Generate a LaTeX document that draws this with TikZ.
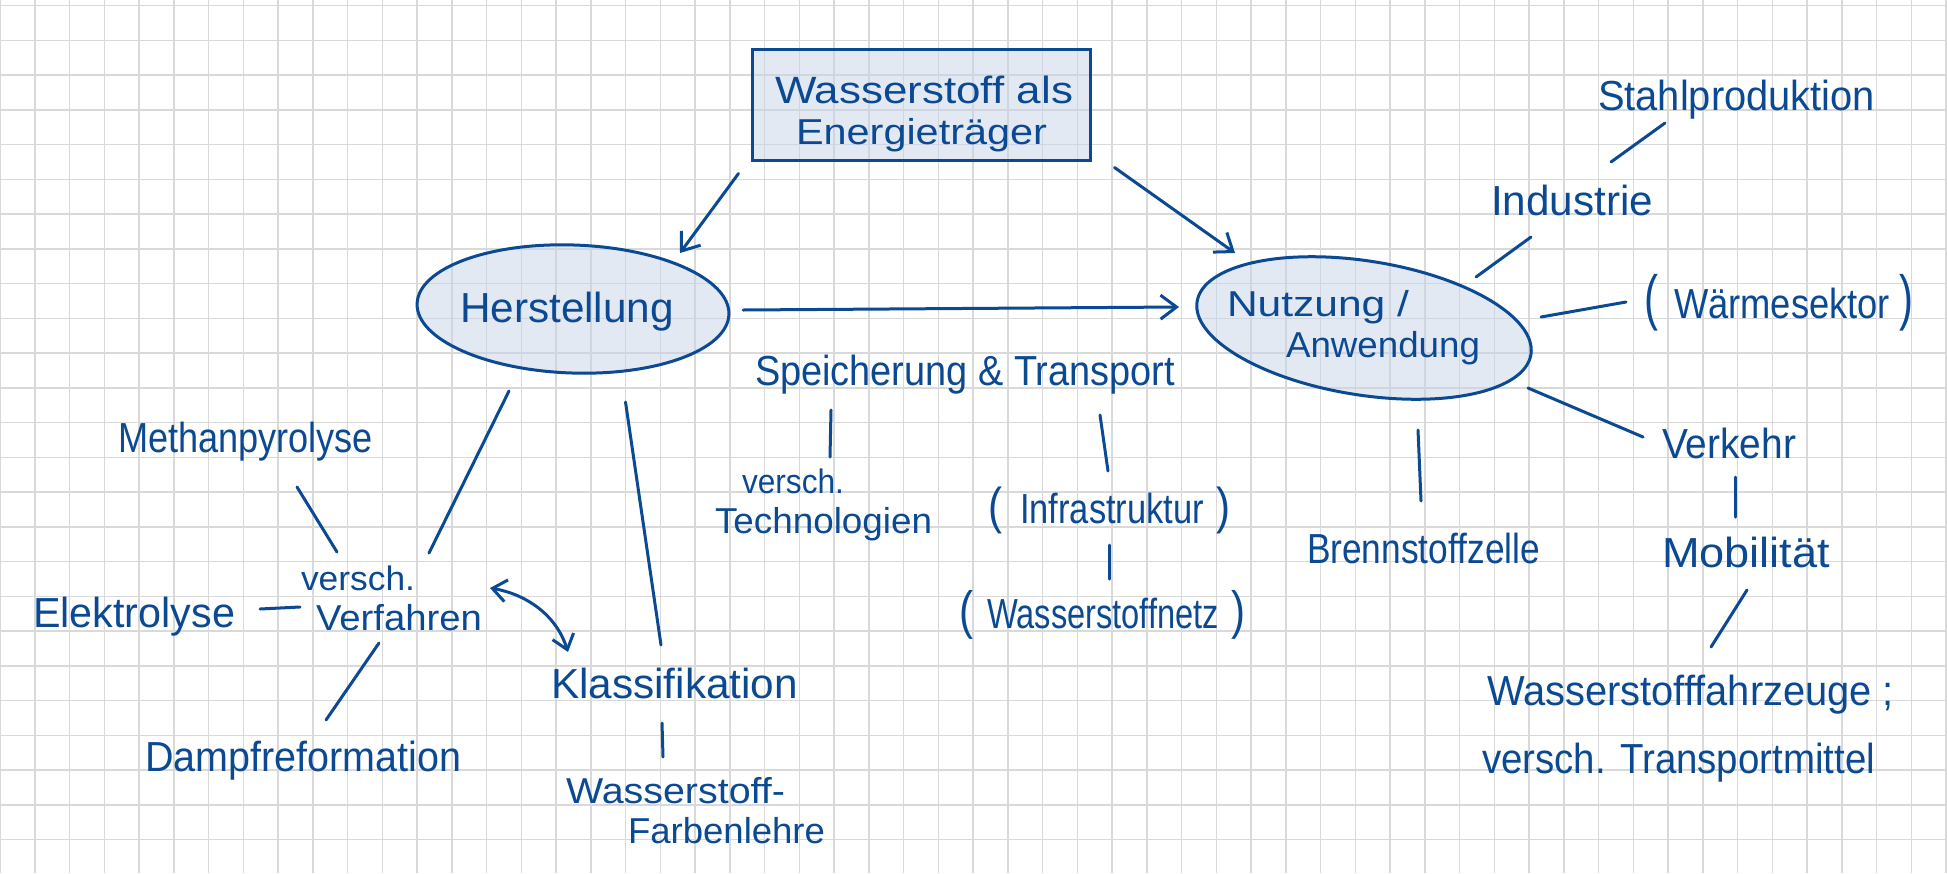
\documentclass[tikz,border=0pt]{standalone}
\usepackage{fontspec}
\setmainfont{Liberation Sans}
\usepackage{graphicx}
\usetikzlibrary{arrows.meta,shapes.geometric}
\definecolor{ink}{HTML}{0B4A93}
\definecolor{shade}{HTML}{C6D4E8}
\definecolor{gridc}{HTML}{D9D9D9}
\newlength{\pxu}\setlength{\pxu}{0.5pt}
\newcommand{\hw}[2]{\resizebox{#1\pxu}{\height}{#2}}
\newcommand{\lpar}[1]{\scalebox{1}[#1]{(}}
\newcommand{\rpar}[1]{\scalebox{1}[#1]{)}}
\begin{document}
\begin{tikzpicture}[x=0.5pt,y=-0.5pt,
  gridline/.style={draw=gridc,line width=0.75pt},
  txt/.style={anchor=base west,inner sep=0pt,outer sep=0pt,text=ink,font=\fontsize{21}{25}\selectfont},
  txts/.style={txt,font=\fontsize{18}{21}\selectfont},
  txtxs/.style={txt,font=\fontsize{17}{20}\selectfont},
  boxshape/.style={draw=ink,line width=1.5pt,fill=shade,fill opacity=0.5,draw opacity=1,rectangle,inner sep=0pt},
  ellshape/.style={draw=ink,line width=1.5pt,fill=shade,fill opacity=0.5,draw opacity=1,ellipse,inner sep=0pt},
  con/.style={draw=ink,line width=1.5pt,line cap=round},
  arr/.style={con,-{Straight Barb[length=8pt,width=12pt]}},
  darr/.style={con,{Straight Barb[length=7pt,width=11pt]}-{Straight Barb[length=7pt,width=11pt]}}]
\useasboundingbox (0,0) rectangle (1947,873);
\fill[white] (0,0) rectangle (1947,873);
\foreach \k in {0,...,56} \draw[gridline] ({34.75*\k},0) -- ({34.75*\k},873);
\foreach \k in {0,...,24} \draw[gridline] (0,{5.7+34.75*\k}) -- (1947,{5.7+34.75*\k});

% shapes
\node[boxshape,minimum width=169pt,minimum height=55.5pt] (title) at (921,104.5) {};
\node[ellshape,minimum width=156pt,minimum height=64pt,rotate=-2] (herst) at (573,309) {};
\node[ellshape,minimum width=169pt,minimum height=67pt,rotate=-9] (nutz) at (1364,328) {};

% texts
\node[txt,font=\fontsize{19}{22}\selectfont] (title1) at (775,103) {\hw{298}{Wasserstoff als}};
\node[txts] (title2) at (796,144) {\hw{251}{Energieträger}};
\node[txt] (hersttxt) at (460,322) {\hw{214}{Herstellung}};
\node[txts] (nutz1) at (1227,316) {\hw{182}{Nutzung /}};
\node[txts] (nutz2) at (1286,357) {\hw{194}{Anwendung}};
\node[txt] (indu) at (1491,215) {\hw{162}{Industrie}};
\node[txt] (stahl) at (1598,110) {\hw{277}{Stahlproduktion}};
\node[txt] (waerme) at (1644,318) {\lpar{1.45}\hspace{8pt}\hw{216}{Wärmesektor}\hspace{4.5pt}\rpar{1.45}};
\node[txt] (verk) at (1662,458) {\hw{134}{Verkehr}};
\node[txt] (mobil) at (1662,567) {\hw{168}{Mobilität}};
\node[txt] (fahrz) at (1487,705) {\hw{407}{Wasserstofffahrzeuge ;}};
\node[txt] (transp) at (1482,773) {\hw{393}{versch. Transportmittel}};
\node[txt] (brenn) at (1307,563) {\hw{233}{Brennstoffzelle}};
\node[txt] (meth) at (118,452) {\hw{255}{Methanpyrolyse}};
\node[txtxs] (verf1) at (301,590) {\hw{114}{versch.}};
\node[txts] (verf2) at (316,630) {\hw{166}{Verfahren}};
\node[txt] (elek) at (33,627) {\hw{202}{Elektrolyse}};
\node[txt] (dampf) at (145,771) {\hw{316}{Dampfreformation}};
\node[txt] (klass) at (551,698) {\hw{247}{Klassifikation}};
\node[txts] (farb1) at (566,803) {\hw{219}{Wasserstoff-}};
\node[txts] (farb2) at (628,843) {\hw{197}{Farbenlehre}};
\node[txt] (speich) at (755,385) {\hw{420}{Speicherung \& Transport}};
\node[txtxs] (tech1) at (742,493) {\hw{102}{versch.}};
\node[txts] (tech2) at (715,533) {\hw{217}{Technologien}};
\node[txt] (infra) at (988,523) {\lpar{1.2}\hspace{9pt}\hw{184}{Infrastruktur}\hspace{6pt}\rpar{1.2}};
\node[txt] (netz) at (959,628) {\lpar{1.25}\hspace{7pt}\hw{232}{Wasserstoffnetz}\hspace{6pt}\rpar{1.25}};

% arrows
\draw[arr] ([shift={(-12,12)}]title.south west) -- ([shift={(107,-56)}]herst.center);
\draw[arr] ([shift={(23,6)}]title.south east) -- ([shift={(-129,-75)}]nutz.center);
\draw[arr] ([shift={(170,1)}]herst.center) -- ([shift={(-185,-21)}]nutz.center);
\draw[darr] ([shift={(174,-42)}]verf2.base west) .. controls +(35,6) and +(-12,-38) .. ([shift={(17,-46)}]klass.base west);

% lines
\draw[con] ([shift={(-64,82)}]herst.center) -- ([shift={(128,-37)}]verf1.base west);
\draw[con] ([shift={(52.5,93)}]herst.center) -- ([shift={(110,-53)}]klass.base west);
\draw[con] ([shift={(179,35)}]meth.base west) -- ([shift={(36,-38)}]verf1.base west);
\draw[con] ([shift={(227,-18)}]elek.base west) -- ([shift={(-16,-23)}]verf2.base west);
\draw[con] ([shift={(63,13)}]verf2.base west) -- ([shift={(181,-51)}]dampf.base west);
\draw[con] ([shift={(111,25)}]klass.base west) -- ([shift={(97,-46)}]farb1.base west);
\draw[con] ([shift={(76,25)}]speich.base west) -- ([shift={(88,-36)}]tech1.base west);
\draw[con] ([shift={(345,30)}]speich.base west) -- ([shift={(120,-52)}]infra.base west);
\draw[con] ([shift={(121,22)}]infra.base west) -- ([shift={(150,-49)}]netz.base west);
\draw[con] ([shift={(112,-51)}]nutz.center) -- ([shift={(40,22)}]indu.base west);
\draw[con] ([shift={(120,-53)}]indu.base west) -- ([shift={(67,13)}]stahl.base west);
\draw[con] ([shift={(177,-11)}]nutz.center) -- ([shift={(-18,-16)}]waerme.base west);
\draw[con] ([shift={(164,60)}]nutz.center) -- ([shift={(-19,-21)}]verk.base west);
\draw[con] ([shift={(54,102)}]nutz.center) -- ([shift={(114,-62)}]brenn.base west);
\draw[con] ([shift={(73,19)}]verk.base west) -- ([shift={(73,-50)}]mobil.base west);
\draw[con] ([shift={(85,23)}]mobil.base west) -- ([shift={(224,-58)}]fahrz.base west);
\end{tikzpicture}
\end{document}
